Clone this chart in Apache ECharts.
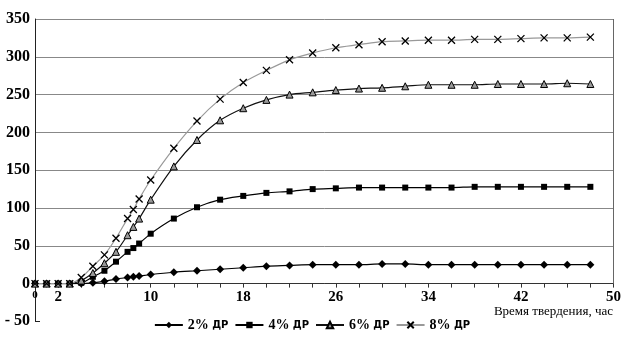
<!DOCTYPE html>
<html>
<head>
<meta charset="utf-8">
<script src="https://cdn.jsdelivr.net/npm/echarts@6/dist/echarts.min.js"></script>
<style>
  html, body { margin: 0; padding: 0; background: #fff; }
  #chart { width: 624px; height: 345px; }
</style>
</head>
<body>
<div id="chart"></div>
<script>
// hours of curing
const hours = [0, 1, 2, 3, 4, 5, 6, 7, 8, 8.5, 9, 10, 12, 14, 16, 18, 20, 22, 24, 26, 28, 30, 32, 34, 36, 38, 40, 42, 44, 46, 48];

const dr2 = [0, 0, 0, 0, 0, 1, 3, 6, 8, 9, 10, 12, 15, 17, 19, 21, 23, 24, 25, 25, 25, 26, 26, 25, 25, 25, 25, 25, 25, 25, 25];
const dr4 = [0, 0, 0, 0, 1, 9, 17, 29, 42, 47, 53, 66, 86, 101, 111, 116, 120, 122, 125, 126, 127, 127, 127, 127, 127, 128, 128, 128, 128, 128, 128];
const dr6 = [0, 0, 0, 0, 4, 14, 27, 42, 64, 75, 86, 111, 155, 190, 216, 232, 243, 250, 253, 256, 258, 259, 261, 263, 263, 263, 264, 264, 264, 265, 264];
const dr8 = [0, 0, 0, 0, 8, 23, 38, 60, 86, 98, 112, 137, 179, 215, 244, 266, 282, 296, 305, 312, 316, 320, 321, 322, 322, 323, 323, 324, 325, 325, 326];

const seriesNames = ['2% ДР', '4% ДР', '6% ДР', '8% ДР'];
const xLabels = [0, 2, 10, 18, 26, 34, 42, 50];

const pairs = vals => hours.map((h, i) => [h, vals[i]]);

const serif = '"Liberation Serif", "Times New Roman", serif';
const crossPath = 'path://M0,0L10,10M10,0L0,10';
const yLabel = {
  fontFamily: serif,
  fontSize: 16,
  fontWeight: 'bold',
  color: '#000',
  margin: 5
};

const chart = echarts.init(document.getElementById('chart'));

// two grids: main one from 0 to 350, and a small one below it for the -50 tail of the y axis
const option = {
  animation: false,
  backgroundColor: '#fff',
  grid: [
    { left: 35, right: 10, top: 19, height: 264.6 },
    { left: 35, right: 10, top: 283.6, bottom: 24 }
  ],
  title: {
    text: 'Время твердения, час',
    right: 6,
    top: 300,
    textStyle: { fontFamily: serif, fontSize: 13, fontWeight: 'normal', color: '#000' }
  },
  legend: {
    bottom: 8,
    left: 'center',
    itemWidth: 28,
    itemHeight: 8,
    itemGap: 6,
    data: seriesNames,
    formatter: name => {
      const parts = name.split(' ');
      return '{a|' + parts[0] + '} {b|' + parts[1] + '}';
    },
    textStyle: {
      rich: {
        a: { fontFamily: serif, fontSize: 14, fontWeight: 'bold', color: '#000' },
        b: { fontFamily: '"DejaVu Sans", sans-serif', fontSize: 10, fontWeight: 'bold', color: '#000' }
      }
    }
  },
  xAxis: [
    {
      type: 'value',
      gridIndex: 0,
      min: 0,
      max: 50,
      interval: 2,
      splitLine: { show: false },
      axisLine: { lineStyle: { color: '#333', width: 1 } },
      axisTick: { show: true, length: 4, lineStyle: { color: '#333' } },
      axisLabel: {
        margin: 6,
        showMaxLabel: true,
        formatter: v => {
          if (!xLabels.includes(v)) return '';
          return v === 0 ? '{s|0}' : String(v);
        },
        fontFamily: serif,
        fontSize: 15,
        fontWeight: 'bold',
        color: '#000',
        rich: { s: { fontFamily: serif, fontSize: 11, color: '#000' } }
      }
    },
    {
      type: 'value',
      gridIndex: 1,
      min: 0,
      max: 50,
      show: false
    }
  ],
  yAxis: [
    {
      type: 'value',
      gridIndex: 0,
      min: 0,
      max: 350,
      interval: 50,
      axisLine: { show: true, lineStyle: { color: '#222', width: 1 } },
      axisTick: { show: false },
      splitLine: { lineStyle: { color: '#888', width: 1 } },
      axisLabel: yLabel
    },
    {
      type: 'value',
      gridIndex: 1,
      min: -50,
      max: 0,
      interval: 50,
      axisLine: { show: true, lineStyle: { color: '#222', width: 1 } },
      axisTick: { show: true, inside: true, length: 5, lineStyle: { color: '#222' } },
      splitLine: { show: false },
      axisLabel: Object.assign({}, yLabel, {
        formatter: v => (v < 0 ? '- ' + Math.abs(v) : '')
      })
    }
  ],
  series: [
    {
      name: seriesNames[0],
      type: 'line',
      smooth: 0.3,
      data: pairs(dr2),
      symbol: 'diamond',
      symbolSize: 8,
      lineStyle: { color: '#000', width: 1.2 },
      itemStyle: { color: '#000' },
      markLine: {
        silent: true,
        symbol: 'none',
        label: { show: false },
        lineStyle: { color: '#666', type: 'solid', width: 1 },
        data: [[{ coord: [50, 0] }, { coord: [50, 350] }]]
      }
    },
    {
      name: seriesNames[1],
      type: 'line',
      smooth: 0.3,
      data: pairs(dr4),
      symbol: 'rect',
      symbolSize: 6,
      lineStyle: { color: '#000', width: 1.2 },
      itemStyle: { color: '#000' }
    },
    {
      name: seriesNames[2],
      type: 'line',
      smooth: 0.3,
      data: pairs(dr6),
      symbol: 'triangle',
      symbolSize: 7,
      lineStyle: { color: '#111', width: 1.2 },
      itemStyle: { color: '#999', borderColor: '#000', borderWidth: 1 }
    },
    {
      name: seriesNames[3],
      type: 'line',
      smooth: 0.3,
      data: pairs(dr8),
      symbol: crossPath,
      symbolSize: 7,
      lineStyle: { color: '#999', width: 1.2 },
      itemStyle: { color: 'none', borderColor: '#000', borderWidth: 1.3 }
    }
  ]
};

chart.setOption(option);
</script>
</body>
</html>
